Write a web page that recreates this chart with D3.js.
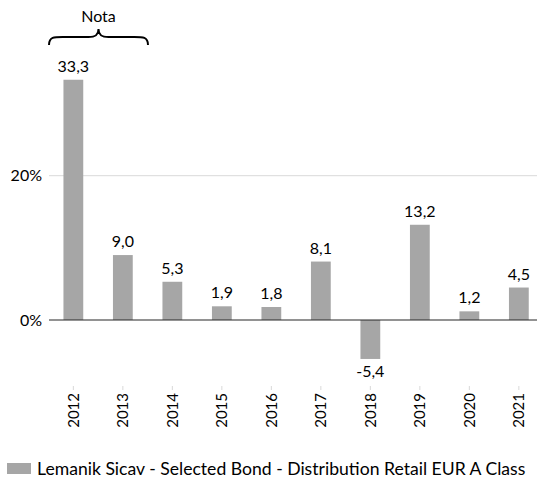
<!DOCTYPE html>
<html>
<head>
<meta charset="utf-8">
<script src="https://cdn.jsdelivr.net/npm/d3@7"></script>
<style>
  html, body { margin: 0; padding: 0; background: #fff; }
  svg { display: block; font-family: Lato, "Open Sans", sans-serif; }
</style>
</head>
<body>
<div id="chart"></div>
<script>
const years = ["2012","2013","2014","2015","2016","2017","2018","2019","2020","2021"];
const values = [33.3, 9.0, 5.3, 1.9, 1.8, 8.1, -5.4, 13.2, 1.2, 4.5];
const yTicks = [0, 20];
const seriesName = "Lemanik Sicav - Selected Bond - Distribution Retail EUR A Class";
const noteLabel = "Nota";

const W = 537, H = 481;
const svg = d3.select("#chart").append("svg").attr("width", W).attr("height", H);

const x = d3.scaleBand().domain(years).range([48.6, 543.6]).paddingInner(0.6).paddingOuter(0.3);
const y = d3.scaleLinear().domain([0, 20]).range([320, 175.7]);

const fmt = v => d3.format(".1f")(v).replace(".", ",").replace("\u2212", "-");

// gridlines
svg.append("g").selectAll("line").data(yTicks.filter(t => t !== 0)).join("line")
  .attr("x1", 49).attr("x2", W).attr("y1", d => y(d)).attr("y2", d => y(d))
  .attr("stroke", "#d9d9d9").attr("stroke-width", 1);

// y labels
svg.append("g").selectAll("text").data(yTicks).join("text")
  .attr("x", 42).attr("y", d => y(d)).attr("dy", "0.36em")
  .attr("text-anchor", "end").attr("font-size", 16).attr("fill", "#000")
  .text(d => d + "%");

// bars
svg.append("g").selectAll("rect").data(values).join("rect")
  .attr("x", (d, i) => x(years[i]))
  .attr("width", x.bandwidth())
  .attr("y", d => y(Math.max(0, d)))
  .attr("height", d => Math.abs(y(d) - y(0)))
  .attr("fill", "#a6a6a6");

// zero line
svg.append("line").attr("x1", 49).attr("x2", W).attr("y1", y(0)).attr("y2", y(0))
  .attr("stroke", "#262626").attr("stroke-width", 1.2);

// value labels
svg.append("g").selectAll("text").data(values).join("text")
  .attr("x", (d, i) => x(years[i]) + x.bandwidth() / 2)
  .attr("y", d => d >= 0 ? y(d) - 8 : y(d) + 18)
  .attr("text-anchor", "middle").attr("font-size", 16).attr("fill", "#000")
  .text(d => fmt(d));

// category ticks
const tickY = 386;
svg.append("g").selectAll("line").data(years).join("line")
  .attr("x1", d => x(d) + x.bandwidth() / 2).attr("x2", d => x(d) + x.bandwidth() / 2)
  .attr("y1", tickY).attr("y2", tickY + 4)
  .attr("stroke", "#d9d9d9").attr("stroke-width", 1);

// year labels rotated
svg.append("g").selectAll("text").data(years).join("text")
  .attr("transform", d => `translate(${x(d) + x.bandwidth() / 2 + 5.5},${393}) rotate(-90)`)
  .attr("text-anchor", "end").attr("font-size", 15).attr("fill", "#000")
  .text(d => d);

// brace with note
const bx0 = 49, bx1 = 148, by = 45, bt = 29;
const mid = (bx0 + bx1) / 2;
const brace = `M${bx0},${by} C${bx0},${by-9} ${bx0+6},${by-8} ${bx0+18},${by-8} L${mid-10},${by-8} C${mid-3},${by-8} ${mid},${by-10} ${mid},${bt}
 C${mid},${by-10} ${mid+3},${by-8} ${mid+10},${by-8} L${bx1-18},${by-8} C${bx1-6},${by-8} ${bx1},${by-9} ${bx1},${by}`;
svg.append("path").attr("d", brace).attr("fill", "none").attr("stroke", "#000").attr("stroke-width", 2);
svg.append("text").attr("x", mid).attr("y", 22).attr("text-anchor", "middle")
  .attr("font-size", 16).attr("fill", "#000").text(noteLabel);

// legend
svg.append("rect").attr("x", 7).attr("y", 463).attr("width", 24).attr("height", 11).attr("fill", "#a6a6a6");
svg.append("text").attr("x", 37).attr("y", 474.5).attr("font-size", 17.6).attr("fill", "#000").text(seriesName);
</script>
</body>
</html>
